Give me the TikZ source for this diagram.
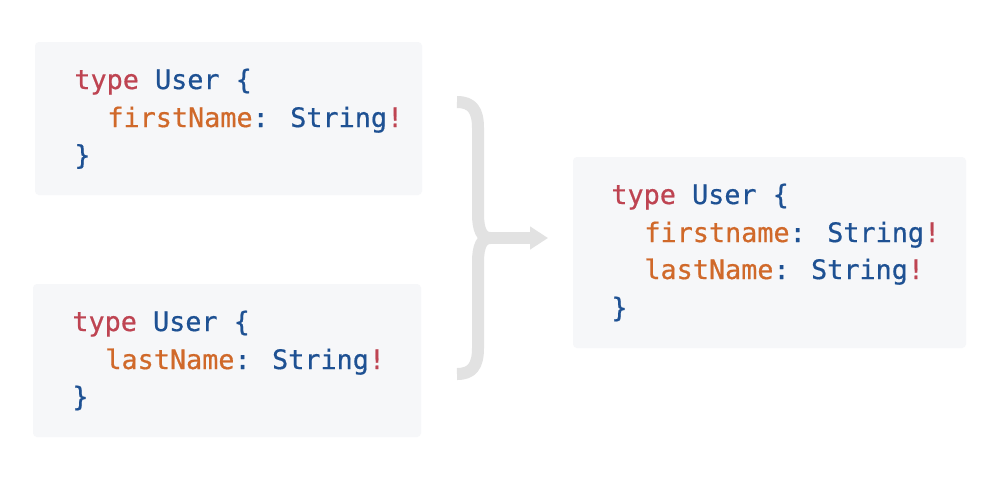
\documentclass[tikz,border=0pt]{standalone}
\usepackage{fontspec}
\newfontfamily\codefont[FakeBold=0.6]{DejaVu Sans Mono}
\usetikzlibrary{arrows.meta}
\definecolor{cred}{HTML}{BE4452}
\definecolor{cblue}{HTML}{1E5193}
\definecolor{corange}{HTML}{D0692A}
\definecolor{boxbg}{HTML}{F6F7F9}
\definecolor{bracegray}{HTML}{E2E2E2}
\tikzset{
  codebox/.style={fill=boxbg, rounded corners=2pt},
  codeline/.style={anchor=base west, inner sep=0pt, font=\codefont\fontsize{13.4}{19}\selectfont},
  bracestroke/.style={draw=bracegray, line width=6pt},
}
\newcommand{\kw}[1]{\textcolor{cred}{#1}}
\newcommand{\ty}[1]{\textcolor{cblue}{#1}}
\newcommand{\fd}[1]{\textcolor{corange}{#1}}
\begin{document}
\begin{tikzpicture}[x=0.5pt,y=-0.5pt]
\useasboundingbox (0,0) rectangle (1000,500);
\fill[white] (0,0) rectangle (1000,500);
% boxes
\path[codebox] (35,42) rectangle (422,195) node[pos=0.5, inner sep=0pt] (boxA) {};
\path[codebox] (33,284) rectangle (421,437) node[pos=0.5, inner sep=0pt] (boxB) {};
\path[codebox] (573,157) rectangle (966,348) node[pos=0.5, inner sep=0pt] (boxC) {};
% box A text
\node[codeline] (a1) at (74,89) {\kw{type} \ty{User \{}};
\node[codeline] (a2) at (107,127) {\fd{firstName}\ty{: String}\kw{!}};
\node[codeline] (a3) at (74,164.5) {\ty{\}}};
% box B text
\node[codeline] (b1) at (72,331) {\kw{type} \ty{User \{}};
\node[codeline] (b2) at (105,369) {\fd{lastName}\ty{: String}\kw{!}};
\node[codeline] (b3) at (72,406) {\ty{\}}};
% box C text
\node[codeline] (c1) at (611,204) {\kw{type} \ty{User \{}};
\node[codeline] (c2) at (644,242) {\fd{firstname}\ty{: String}\kw{!}};
\node[codeline] (c3) at (644,279) {\fd{lastName}\ty{: String}\kw{!}};
\node[codeline] (c4) at (611,317) {\ty{\}}};
% brace with arrow
\coordinate (btop) at (457,102);
\coordinate (bbot) at (457,374);
\coordinate (bmid) at (490,238);
\coordinate (btip) at (548,238);
\draw[bracestroke, line join=round] (btop) .. controls (472,102) and (478,110) .. (478,128)
  -- (478,214) .. controls (478,230) and (482,238) .. (bmid);
\draw[bracestroke, line join=round] (bbot) .. controls (472,374) and (478,366) .. (478,348)
  -- (478,262) .. controls (478,246) and (482,238) .. (bmid);
\draw[bracestroke, -{Triangle[length=9pt,width=11pt]}] (bmid) -- (btip);
\end{tikzpicture}
\end{document}
